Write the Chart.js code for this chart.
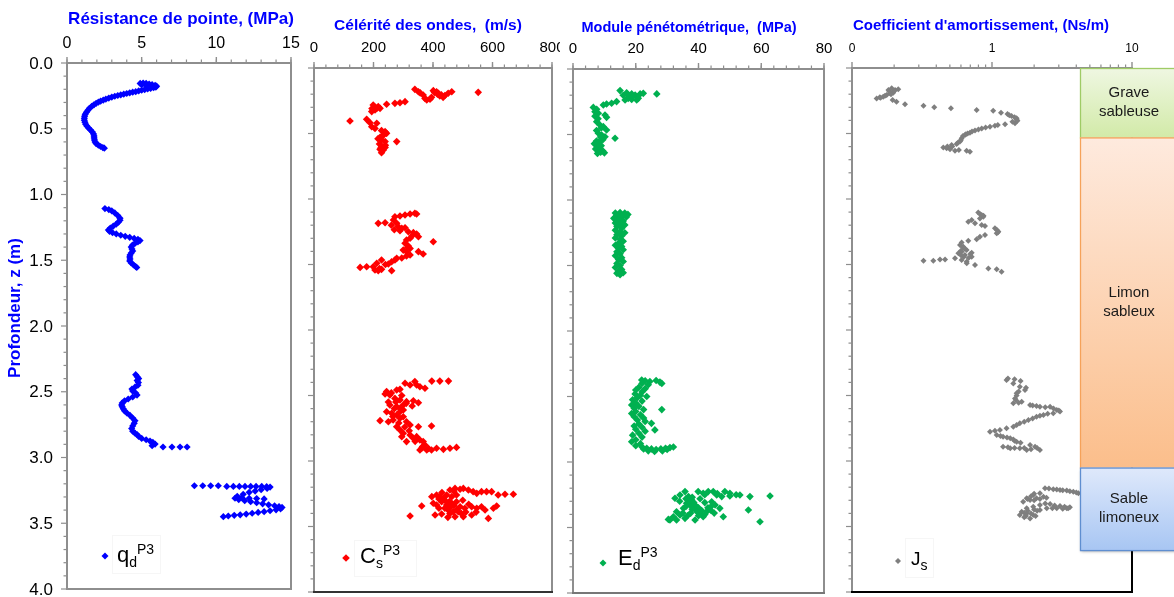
<!DOCTYPE html>
<html><head><meta charset="utf-8">
<script src="https://cdn.jsdelivr.net/npm/chart.js@4.4.1/dist/chart.umd.min.js"></script>
<style>
html,body{margin:0;padding:0;background:#fff;width:1174px;height:597px;overflow:hidden;}
canvas{position:absolute;top:0;}
</style></head><body>
<canvas id="c1" width="300" height="597" style="left:0px"></canvas>
<canvas id="c2" width="260" height="597" style="left:300px"></canvas>
<canvas id="c3" width="275" height="597" style="left:560px"></canvas>
<canvas id="c4" width="334" height="597" style="left:840px"></canvas>
<script>
// ---------------- DATA ----------------
const depthTicks = [0, 0.5, 1, 1.5, 2, 2.5, 3, 3.5, 4];
const depthTickLabels = ['0.0', '0.5', '1.0', '1.5', '2.0', '2.5', '3.0', '3.5', '4.0'];
const qdTicks = [0, 5, 10, 15];
const csTicks = [0, 200, 400, 600, 800];
const edTicks = [0, 20, 40, 60, 80];
const jsTicks = [0.1, 1, 10];
const jsTickLabels = ['0', '1', '10'];

const panelTitles = ['Résistance de pointe, (MPa)', 'Célérité des ondes,  (m/s)', 'Module pénétométrique,  (MPa)', "Coefficient d'amortissement, (Ns/m)"];
const depthTitle = 'Profondeur, z (m)';

const soilNames = [['Grave', 'sableuse'], ['Limon', 'sableux'], ['Sable', 'limoneux']];
const soilTop = [0, 0.53, 3.05];
const soilBottom = [0.53, 3.05, 3.68];

// q_d^P3 (MPa, depth m)
const qdSeries = [
 [4.9,0.155],[5.1,0.152],[5.3,0.155],[5.5,0.16],[5.7,0.165],[5.9,0.17],[6.0,0.176],[5.95,0.183],[5.0,0.165],[5.3,0.172],
 [5.8,0.188],[5.6,0.193],[5.4,0.197],[5.2,0.202],[5.0,0.207],[4.8,0.212],[4.6,0.218],[4.4,0.222],[4.2,0.227],[4.0,0.232],
 [3.8,0.237],[3.6,0.242],[3.4,0.247],[3.2,0.253],[3.0,0.259],[2.8,0.267],[2.6,0.275],[2.43,0.282],[2.25,0.29],[2.1,0.298],
 [1.95,0.307],[1.8,0.318],[1.65,0.33],[1.5,0.345],[1.4,0.36],[1.3,0.375],[1.22,0.39],[1.18,0.405],[1.16,0.42],[1.16,0.435],
 [1.2,0.45],[1.25,0.465],[1.33,0.48],[1.45,0.495],[1.58,0.51],[1.7,0.525],[1.78,0.54],[1.81,0.555],[1.82,0.57],[1.84,0.585],
 [1.88,0.6],[1.95,0.613],[2.1,0.625],[2.25,0.635],[2.4,0.643],[2.5,0.648],
 [2.54,1.107],[2.8,1.115],[3.0,1.125],[3.2,1.14],[3.4,1.16],[3.55,1.18],[3.55,1.196],[3.45,1.21],[3.3,1.225],[3.1,1.24],
 [2.9,1.255],[2.77,1.27],[2.85,1.28],[3.05,1.29],[3.3,1.3],[3.6,1.31],[3.9,1.318],[4.2,1.326],[4.5,1.334],[4.75,1.342],
 [4.89,1.35],[4.75,1.36],[4.55,1.372],[4.38,1.385],[4.3,1.4],[4.35,1.415],[4.4,1.43],[4.3,1.445],[4.22,1.46],[4.2,1.475],
 [4.22,1.49],[4.2,1.505],[4.3,1.52],[4.45,1.535],[4.6,1.548],[4.67,1.555],
 [4.6,2.37],[4.7,2.385],[4.8,2.4],[4.7,2.415],[4.78,2.43],[4.75,2.45],[4.55,2.465],[4.35,2.48],[4.4,2.495],[4.6,2.51],
 [4.69,2.525],[4.4,2.54],[4.1,2.555],[3.85,2.57],[3.7,2.585],[3.66,2.6],[3.7,2.615],[3.77,2.63],[3.85,2.645],[4.0,2.66],
 [4.22,2.68],[4.4,2.7],[4.55,2.72],[4.5,2.74],[4.4,2.76],[4.33,2.78],[4.4,2.8],[4.55,2.815],[4.69,2.825],[4.8,2.84],
 [5.0,2.855],[5.3,2.865],[5.56,2.875],[5.75,2.885],[5.9,2.898],[5.7,2.91],[6.43,2.92],[7.03,2.92],[7.57,2.92],[8.04,2.92],
 [8.53,3.215],[9.09,3.215],[9.62,3.215],[10.13,3.215],[10.7,3.22],[11.14,3.22],[11.54,3.22],[11.92,3.22],[12.3,3.22],[12.66,3.22],
 [13.04,3.22],[13.37,3.222],[13.6,3.225],[13.4,3.235],[13.0,3.245],[12.6,3.255],[12.2,3.265],[11.8,3.28],[11.4,3.295],[11.25,3.31],
 [11.7,3.305],[12.2,3.31],[12.7,3.312],[13.2,3.315],[11.5,3.32],[11.9,3.328],[12.3,3.336],[12.7,3.344],[13.1,3.352],[13.5,3.36],
 [13.9,3.367],[14.2,3.373],[14.4,3.38],[14.3,3.39],[14.0,3.398],[13.6,3.405],[13.2,3.412],[12.8,3.418],[12.4,3.424],[12.0,3.43],
 [11.6,3.436],[11.2,3.44],[10.8,3.445],[10.47,3.45]
];

// C_s^P3 (m/s, depth m)
const csSeries = [
 [339,0.163],[351,0.181],[367,0.206],[379,0.244],[390,0.239],[401,0.173],[412,0.181],[418,0.193],[423,0.214],[434,0.224],
 [451,0.193],[463,0.181],[552,0.186],[373,0.232],[395,0.224],[405,0.186],[415,0.2],[428,0.205],[440,0.21],[357,0.19],
 [306,0.257],[289,0.265],[272,0.27],[244,0.277],[199,0.282],[211,0.308],[194,0.333],[205,0.32],[216,0.295],[222,0.308],
 [205,0.3],[195,0.31],[121,0.405],[177,0.392],[188,0.417],[211,0.422],[194,0.448],[205,0.461],[227,0.478],[239,0.486],
 [233,0.511],[244,0.499],[222,0.529],[227,0.55],[239,0.562],[278,0.562],[227,0.595],[222,0.621],[233,0.626],[227,0.646],
 [239,0.606],[230,0.52],[215,0.54],[240,0.59],[225,0.61],[220,0.58],
 [216,1.186],[239,1.181],[272,1.135],[289,1.13],[306,1.122],[323,1.114],[339,1.109],[345,1.114],[267,1.16],[278,1.186],
 [283,1.211],[295,1.224],[306,1.219],[289,1.242],[317,1.25],[334,1.257],[345,1.267],[351,1.288],[323,1.3],[311,1.313],
 [306,1.338],[317,1.359],[323,1.377],[311,1.402],[323,1.427],[351,1.402],[367,1.42],[401,1.326],[278,1.453],[272,1.466],
 [261,1.479],[250,1.496],[227,1.466],[211,1.491],[199,1.517],[205,1.542],[216,1.547],[227,1.537],[261,1.547],[177,1.517],
 [155,1.522],[311,1.435],[300,1.39],[315,1.37],[295,1.45],[240,1.5],[220,1.53],[260,1.2],[270,1.235],[330,1.28],
 [396,2.39],[423,2.39],[452,2.39],[306,2.407],[339,2.394],[356,2.433],[373,2.445],[345,2.42],[323,2.42],[278,2.458],
 [289,2.453],[244,2.47],[239,2.488],[255,2.496],[272,2.522],[289,2.534],[311,2.547],[334,2.54],[351,2.555],[255,2.573],
 [278,2.585],[289,2.598],[300,2.573],[244,2.624],[261,2.636],[278,2.649],[289,2.624],[222,2.692],[250,2.7],[266,2.687],
 [289,2.674],[300,2.662],[311,2.7],[323,2.725],[351,2.738],[395,2.733],[278,2.738],[289,2.763],[300,2.789],[323,2.802],
 [334,2.827],[345,2.814],[356,2.84],[367,2.852],[373,2.878],[362,2.903],[356,2.916],[379,2.916],[395,2.916],[412,2.903],
 [435,2.911],[457,2.903],[479,2.896],[311,2.852],[295,2.814],[260,2.48],[270,2.6],[300,2.61],[265,2.66],[285,2.71],
 [305,2.74],[320,2.77],[340,2.85],[365,2.89],[385,2.905],[310,2.56],[330,2.58],[250,2.55],[275,2.55],[295,2.5],
 [457,3.221],[474,3.209],[491,3.216],[502,3.209],[519,3.221],[535,3.234],[547,3.247],[563,3.234],[580,3.234],[597,3.234],
 [619,3.26],[642,3.254],[670,3.254],[396,3.272],[412,3.26],[423,3.272],[435,3.285],[446,3.26],[463,3.272],[479,3.26],
 [401,3.323],[412,3.336],[429,3.311],[446,3.336],[463,3.323],[479,3.311],[491,3.349],[507,3.361],[530,3.349],[547,3.361],
 [563,3.349],[575,3.374],[603,3.361],[614,3.344],[362,3.344],[323,3.42],[407,3.412],[429,3.405],[457,3.4],[474,3.425],
 [502,3.425],[530,3.412],[586,3.438],[451,3.374],[468,3.387],[485,3.387],[420,3.29],[440,3.3],[455,3.31],[470,3.34],
 [440,3.36],[460,3.35],[480,3.37],[510,3.39],[520,3.33],[500,3.3],[430,3.24],[470,3.23],[495,3.4],[545,3.39],
 [420,3.36],[450,3.43]
];

// E_d^P3 (MPa, depth m)
const edSeries = [
 [15.0,0.165],[17.1,0.181],[18.7,0.19],[19.8,0.198],[20.3,0.211],[21.4,0.19],[22.4,0.186],[26.7,0.19],[16.6,0.237],[17.6,0.224],
 [18.7,0.232],[20.3,0.237],[20.8,0.224],[9.67,0.275],[10.7,0.267],[12.3,0.262],[13.9,0.249],[6.48,0.293],[7.54,0.308],[7.0,0.326],
 [8.07,0.338],[10.2,0.351],[10.7,0.369],[7.54,0.402],[8.6,0.427],[9.67,0.44],[10.7,0.466],[8.07,0.491],[9.14,0.504],[10.2,0.517],
 [13.4,0.529],[17.5,0.2],[19.0,0.21],[16.0,0.2],[7.0,0.36],[8.0,0.38],[9.0,0.45],[7.5,0.47],[7.5,0.55],[8.2,0.56],
 [6.8,0.57],[7.6,0.58],[9.0,0.585],[8.0,0.6],[7.2,0.61],[8.5,0.62],[9.5,0.625],[8.8,0.635],[10.0,0.64],[7.8,0.645],
 [9.5,0.54],[8.8,0.52],
 [13.5,1.1],[15.0,1.095],[16.5,1.1],[17.5,1.11],[14.0,1.12],[15.5,1.125],[17.0,1.13],[13.0,1.14],[14.5,1.15],[16.0,1.16],
 [13.5,1.175],[15.0,1.185],[16.5,1.19],[14.0,1.2],[15.5,1.215],[13.5,1.23],[15.0,1.24],[16.5,1.25],[14.0,1.265],[15.5,1.275],
 [13.5,1.29],[15.0,1.3],[16.0,1.315],[14.5,1.33],[13.5,1.345],[15.5,1.355],[14.5,1.37],[16.0,1.38],[14.0,1.395],[15.0,1.41],
 [13.5,1.425],[15.5,1.44],[14.5,1.455],[16.0,1.47],[14.0,1.485],[15.0,1.5],[13.5,1.515],[15.5,1.53],[14.5,1.545],[16.0,1.555],
 [15.0,1.57],[14.0,1.56],
 [21.9,2.374],[23.0,2.38],[24.5,2.385],[26.5,2.378],[27.7,2.39],[28.3,2.4],[22.0,2.4],[24.0,2.41],[21.0,2.43],[23.0,2.44],
 [20.0,2.45],[22.0,2.465],[19.8,2.48],[21.5,2.49],[23.5,2.5],[20.5,2.51],[19.0,2.525],[22.0,2.535],[20.0,2.55],[18.7,2.565],
 [21.0,2.575],[28.3,2.6],[19.5,2.59],[22.5,2.6],[20.0,2.615],[18.7,2.63],[21.5,2.64],[19.5,2.655],[22.5,2.665],[20.5,2.68],
 [23.0,2.69],[25.0,2.705],[21.0,2.71],[19.5,2.725],[22.0,2.735],[26.1,2.755],[20.0,2.75],[23.0,2.765],[21.0,2.78],[19.0,2.795],
 [22.0,2.81],[20.0,2.83],[18.7,2.845],[21.5,2.86],[20.0,2.875],[22.0,2.885],[23.5,2.895],[25.0,2.9],[26.5,2.905],[28.0,2.9],
 [29.5,2.895],[30.9,2.89],[32.0,2.885],[24.0,2.915],[26.0,2.92],[28.5,2.915],[22.5,2.9],[30.0,2.905],
 [32.5,3.277],[34.1,3.252],[35.7,3.226],[36.8,3.264],[37.8,3.29],[36.2,3.315],[35.2,3.354],[37.3,3.328],[38.3,3.341],[39.4,3.366],
 [40.5,3.392],[38.9,3.443],[41.5,3.418],[42.6,3.379],[39.9,3.226],[41.5,3.239],[43.1,3.226],[44.7,3.226],[45.8,3.252],[47.4,3.264],
 [48.4,3.226],[50.0,3.239],[53.2,3.252],[56.4,3.264],[62.8,3.259],[44.2,3.303],[45.3,3.328],[46.8,3.354],[47.9,3.418],[55.9,3.366],
 [59.6,3.456],[30.9,3.443],[32.0,3.418],[33.0,3.443],[34.1,3.405],[35.7,3.43],[30.4,3.438],[37,3.30],[38.5,3.31],[39,3.33],
 [40,3.35],[36,3.34],[38,3.36],[41,3.37],[39.5,3.38],[37.5,3.39],[40,3.41],[42,3.4],[43,3.35],[44,3.34],
 [42,3.31],[40.5,3.28],[38,3.27],[36,3.28],[34,3.3],[35,3.39],[36.5,3.41],[33,3.38],[42,3.25],[46,3.24],
 [50,3.26],[52,3.25],[44,3.37],[45,3.39]
];

// J_s (Ns/m, depth m)
const jsSeries = [
 [0.15,0.232],[0.158,0.224],[0.167,0.219],[0.177,0.206],[0.187,0.193],[0.182,0.168],[0.192,0.155],[0.203,0.168],[0.214,0.163],[0.197,0.188],
 [0.208,0.257],[0.239,0.277],[0.324,0.288],[0.387,0.3],[0.509,0.308],[0.777,0.321],[1.02,0.326],[1.16,0.341],[1.29,0.351],[1.38,0.366],
 [1.5,0.384],[1.52,0.402],[1.46,0.422],[1.24,0.43],[1.05,0.44],[0.968,0.448],[0.844,0.461],[0.756,0.478],[0.696,0.494],[0.641,0.511],
 [0.607,0.537],[0.591,0.562],[0.559,0.58],[0.515,0.588],[0.449,0.606],[0.474,0.613],[0.501,0.621],[0.544,0.631],[0.659,0.631],[0.696,0.639],
 [0.16,0.228],[0.172,0.212],[0.19,0.2],[0.2,0.175],[0.185,0.18],[0.195,0.245],[1.45,0.375],[1.5,0.395],[1.4,0.41],[1.33,0.36],
 [0.9,0.455],[0.8,0.47],[0.72,0.485],[0.67,0.5],[0.62,0.52],[0.6,0.55],[0.57,0.57],[0.52,0.6],[0.48,0.6],[0.58,0.625],
 [1.1,0.435],[0.65,0.505],
 [0.798,1.104],[0.844,1.122],[0.867,1.135],[0.82,1.148],[0.677,1.173],[0.716,1.16],[0.756,1.186],[0.844,1.198],[0.891,1.206],[1.05,1.224],
 [1.11,1.249],[1.08,1.262],[0.891,1.275],[0.82,1.288],[0.777,1.308],[0.677,1.318],[0.607,1.333],[0.591,1.351],[0.624,1.364],[0.659,1.389],
 [0.607,1.402],[0.575,1.415],[0.544,1.453],[0.462,1.461],[0.425,1.461],[0.381,1.471],[0.324,1.471],[0.641,1.427],[0.716,1.44],[0.756,1.504],
 [0.942,1.53],[1.08,1.537],[1.17,1.555],[0.607,1.466],[0.659,1.479],[0.716,1.41],[0.82,1.115],[0.87,1.128],[1.08,1.235],[1.1,1.255],
 [0.62,1.37],[0.64,1.38],[0.6,1.395],[0.63,1.44],[0.68,1.45],[0.6,1.43],[0.7,1.42],[0.66,1.49],
 [1.27,2.382],[1.42,2.408],[1.58,2.433],[1.72,2.458],[1.5,2.483],[1.46,2.522],[1.63,2.547],[1.42,2.56],[1.87,2.573],[2.08,2.58],
 [2.2,2.585],[2.6,2.585],[2.9,2.611],[3.06,2.623],[2.74,2.636],[2.33,2.649],[2.08,2.662],[1.82,2.687],[1.58,2.712],[1.42,2.738],
 [1.27,2.75],[1.14,2.763],[0.968,2.776],[1.08,2.802],[1.2,2.814],[1.35,2.827],[1.5,2.853],[1.2,2.891],[1.35,2.903],[1.58,2.903],
 [1.87,2.878],[2.03,2.891],[2.2,2.916],[1.77,2.916],[1.42,2.835],[1.3,2.37],[1.45,2.375],[1.6,2.39],[1.75,2.44],[1.55,2.47],
 [1.5,2.5],[1.48,2.535],[1.55,2.555],[1.95,2.577],[2.4,2.59],[2.75,2.6],[3.0,2.615],[2.5,2.64],[2.2,2.655],[1.95,2.675],
 [1.7,2.7],[1.5,2.725],[1.05,2.77],[1.15,2.81],[1.28,2.82],[1.45,2.845],[1.6,2.86],[1.3,2.895],[1.45,2.9],[1.7,2.9],
 [2.1,2.9],[1.9,2.91],
 [2.39,3.208],[2.74,3.216],[3.06,3.221],[3.42,3.226],[3.81,3.234],[4.14,3.247],[2.2,3.247],[1.97,3.26],[1.77,3.285],[1.67,3.311],
 [1.87,3.298],[2.08,3.285],[2.33,3.272],[2.6,3.328],[3.06,3.344],[3.6,3.354],[2.2,3.336],[1.97,3.349],[1.77,3.361],[1.63,3.387],
 [1.58,3.412],[1.77,3.4],[1.97,3.412],[1.87,3.438],[2.2,3.374],[2.46,3.361],[2.9,3.361],[3.42,3.361],[2.55,3.21],[2.9,3.218],
 [3.2,3.224],[3.6,3.23],[4.0,3.24],[2.0,3.25],[1.9,3.27],[1.8,3.29],[2.0,3.3],[2.2,3.29],[2.45,3.28],[2.4,3.325],
 [2.8,3.34],[3.3,3.35],[3.5,3.36],[3.2,3.365],[2.7,3.36],[2.0,3.37],[1.8,3.38],[1.7,3.395],[1.9,3.4],[1.75,3.42],
 [2.05,3.42],[2.1,3.38],[1.7,3.43]
];

// ---------------- RENDERING ----------------
const FONT = '"Liberation Sans", Arial, sans-serif';
const GREY = '#8e8e8e';

function minorValues(o){
  if (o.minorList) return o.minorList;
  const out=[]; for(let k=0;k*o.minorStep<=o.max+1e-9;k++) out.push(k*o.minorStep); return out;
}

const decor = {
  id:'decor',
  afterDraw(chart, args, o){
    const ctx=chart.ctx, a=chart.chartArea, xs=chart.scales.x, ys=chart.scales.y, ox=o.ox;
    const line=(x1,y1,x2,y2,c,w)=>{ctx.strokeStyle=c;ctx.lineWidth=w;ctx.beginPath();ctx.moveTo(x1,y1);ctx.lineTo(x2,y2);ctx.stroke();};
    ctx.save();
    // minor / major ticks top
    minorValues(o).forEach(v=>{const x=xs.getPixelForValue(v); line(x,a.top,x,a.top-3.5,GREY,1.2);});
    o.majors.forEach(v=>{const x=xs.getPixelForValue(v); line(x,a.top,x,a.top-6,GREY,1.4);});
    // left ticks
    for(let k=0;k<=40;k++){const y=ys.getPixelForValue(k/10); const L=(k%5===0)?6:3.5; line(a.left,y,a.left-L,y,GREY,1.2);}
    // depth labels (panel 1 only)
    if (o.yLabels){
      ctx.fillStyle='#000'; ctx.font='17px '+FONT; ctx.textAlign='right'; ctx.textBaseline='middle';
      depthTicks.forEach((v,i)=>ctx.fillText(depthTickLabels[i], a.left-14, ys.getPixelForValue(v)+1));
    }
    // frame
    line(a.left-1,a.top,a.right+1,a.top,o.frame[0],2);
    line(a.left,a.top,a.left,a.bottom+1,o.frame[1],2);
    line(a.right,a.top,a.right,a.bottom+1,o.frame[2],2);
    line(a.left-1,a.bottom,a.right+1,a.bottom,o.frame[3],2);
    // soil column
    if (o.soil){
      const s=o.soil;
      soilTop.forEach((t,i)=>{
        const y1=ys.getPixelForValue(t), y2=ys.getPixelForValue(soilBottom[i]);
        const g=ctx.createLinearGradient(0,y1,0,y2); g.addColorStop(0,s.c0[i]); g.addColorStop(1,s.c1[i]);
        ctx.save();
        if(i===2){ctx.shadowColor='rgba(0,0,0,0.35)';ctx.shadowBlur=3;ctx.shadowOffsetY=2;ctx.shadowOffsetX=1;}
        ctx.fillStyle=g; ctx.fillRect(s.left,y1,s.width,y2-y1); ctx.restore();
        ctx.strokeStyle=s.border[i]; ctx.lineWidth=1.3; ctx.strokeRect(s.left+0.5,y1+0.5,s.width,y2-y1);
        ctx.fillStyle='#1a1a1a'; ctx.font='15px '+FONT; ctx.textAlign='center'; ctx.textBaseline='middle';
        const cy=(y1+y2)/2, cx=s.left+s.width/2;
        soilNames[i].forEach((ln,j)=>ctx.fillText(ln,cx,cy+(j-(soilNames[i].length-1)/2)*19));
      });
    }
    // legend
    const L=o.legend;
    if (L.box[2]>0){ ctx.strokeStyle='#f6f6f6'; ctx.lineWidth=1; ctx.strokeRect(L.box[0]-ox+0.5,L.box[1]+0.5,L.box[2],L.box[3]); }
    ctx.fillStyle=L.color; ctx.beginPath();
    ctx.moveTo(L.mx-ox,L.my-L.mr); ctx.lineTo(L.mx-ox+L.mr,L.my); ctx.lineTo(L.mx-ox,L.my+L.mr); ctx.lineTo(L.mx-ox-L.mr,L.my); ctx.closePath(); ctx.fill();
    ctx.fillStyle='#000'; ctx.textAlign='left'; ctx.textBaseline='alphabetic';
    ctx.font=L.size+'px '+FONT; let x=L.tx-ox; ctx.fillText(L.main,x,L.ty); x+=ctx.measureText(L.main).width;
    ctx.font='14px '+FONT; ctx.fillText(L.sub,x,L.ty+5); x+=ctx.measureText(L.sub).width;
    if(L.sup){ ctx.fillText(L.sup,x,L.ty-8); }
    // panel title
    ctx.fillStyle='#0000ff'; ctx.textAlign='center'; ctx.textBaseline='alphabetic'; ctx.font='bold '+o.title.size+'px '+FONT;
    ctx.fillText(o.title.text,o.title.cx-ox,o.title.by);
    if(o.ytitle){
      ctx.save(); ctx.translate(o.ytitle.cx,o.ytitle.cy); ctx.rotate(-Math.PI/2);
      ctx.textBaseline='middle'; ctx.font='bold 17px '+FONT; ctx.fillText(o.ytitle.text,0,0); ctx.restore();
    }
    ctx.restore();
  }
};

function makePanel(id, c){
  return new Chart(document.getElementById(id), {
    type:'scatter',
    data:{datasets:[{data:c.points.map(p=>({x:p[0],y:p[1]})), pointStyle:'rectRot', pointRadius:c.r, pointHoverRadius:c.r,
      backgroundColor:c.color, borderColor:c.color, borderWidth:0, showLine:false}]},
    options:{
      responsive:false, animation:false, events:[],
      layout:{padding:c.pad},
      plugins:{legend:{display:false}, tooltip:{enabled:false}, decor:c.decor},
      scales:{
        x:{type:c.xType, position:'top', min:c.xMin, max:c.xMax,
           afterFit:s=>{s.height=c.xH; s.paddingLeft=0; s.paddingRight=0;},
           afterBuildTicks:s=>{s.ticks=c.xTicks.map(v=>({value:v}));},
           ticks:{autoSkip:false, maxRotation:0, minRotation:0, padding:c.xPad, color:'#000',
                  font:{family:FONT,size:c.xFont}, callback:(v,i)=>c.xLabels[i]},
           grid:{display:false}, border:{display:false}},
        y:{type:'linear', reverse:true, min:0, max:4,
           afterFit:s=>{s.width=c.yW; s.paddingTop=0; s.paddingBottom=0;},
           afterBuildTicks:s=>{s.ticks=depthTicks.map(v=>({value:v}));},
           ticks:{display:false},
           grid:{display:false}, border:{display:false}}
      }
    },
    plugins:[decor]
  });
}

makePanel('c1',{points:qdSeries, r:3.6, color:'#0000ff', xType:'linear', xMin:0, xMax:15, xTicks:qdTicks, xLabels:qdTicks.map(String),
  xH:63, xPad:2, xFont:16, yW:67, pad:{left:0,right:9,top:0,bottom:8},
  decor:{ox:0, yLabels:true, majors:qdTicks, minorStep:1, max:15, frame:[GREY,GREY,GREY,GREY],
    legend:{box:[112,535,48,38], color:'#0000ff', mx:105, my:556, mr:3.5, tx:117, ty:562, size:22, main:'q', sub:'d', sup:'P3'},
    title:{text:panelTitles[0], size:17, cx:181, by:24},
    ytitle:{text:depthTitle, cx:15, cy:308}}});

makePanel('c2',{points:csSeries, r:3.8, color:'#ff0000', xType:'linear', xMin:0, xMax:800, xTicks:csTicks, xLabels:csTicks.map(String),
  xH:68, xPad:3, xFont:15, yW:14, pad:{left:0,right:8,top:0,bottom:5},
  decor:{ox:300, majors:csTicks, minorStep:40, max:800, frame:[GREY,GREY,GREY,'#333'],
    legend:{box:[354,540,62,36], color:'#ff0000', mx:346, my:558, mr:3.8, tx:360, ty:563, size:22, main:'C', sub:'s', sup:'P3'},
    title:{text:panelTitles[1], size:15.5, cx:428, by:30}}});

makePanel('c3',{points:edSeries, r:3.8, color:'#00b050', xType:'linear', xMin:0, xMax:80, xTicks:edTicks, xLabels:edTicks.map(String),
  xH:69, xPad:3, xFont:15, yW:13, pad:{left:0,right:11,top:0,bottom:4},
  decor:{ox:560, majors:edTicks, minorStep:4, max:80, frame:[GREY,GREY,GREY,'#777'],
    legend:{box:[0,0,0,0], color:'#00b050', mx:603, my:563, mr:3.5, tx:618, ty:565, size:22, main:'E', sub:'d', sup:'P3'},
    title:{text:panelTitles[2], size:14.5, cx:689, by:32}}});

makePanel('c4',{points:jsSeries, r:3, color:'#7f7f7f', xType:'logarithmic', xMin:0.1, xMax:10, xTicks:jsTicks, xLabels:jsTickLabels,
  xH:68, xPad:4, xFont:12, yW:12, pad:{left:0,right:42,top:0,bottom:5},
  decor:{ox:840, majors:jsTicks, minorList:[0.2,0.3,0.4,0.5,0.6,0.7,0.8,0.9,2,3,4,5,6,7,8,9], frame:[GREY,GREY,'#000','#000'],
    legend:{box:[905,538,28,39], color:'#7f7f7f', mx:898, my:561, mr:3, tx:911, ty:565, size:19, main:'J', sub:'s', sup:''},
    title:{text:panelTitles[3], size:15, cx:981, by:30},
    soil:{left:240, width:98, c0:['#eff7e2','#feeade','#dfe9fb'], c1:['#d2eaa8','#fbbe8b','#a8c6f3'], border:['#9fcb66','#f5a25a','#5f8ed0']}}});
</script>
</body></html>
